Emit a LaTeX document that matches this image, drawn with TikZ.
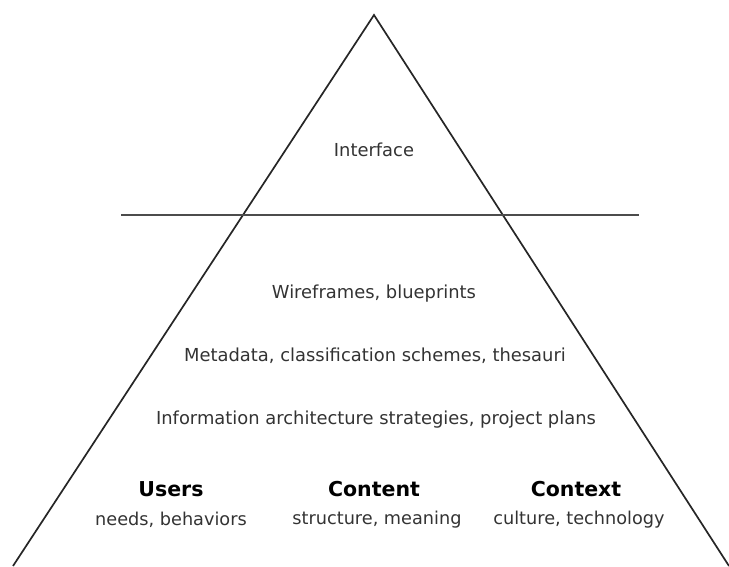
\documentclass[tikz,border=0pt]{standalone}
\usepackage{fontspec}
\setmainfont{DejaVu Sans}
\begin{document}
\begin{tikzpicture}[x=1pt,y=-1pt,
  layer/.style={text=black!80,font=\fontsize{17.9}{20}\selectfont,inner sep=0pt},
  head/.style={text=black,font=\fontsize{20.5}{24}\selectfont\bfseries,inner sep=0pt},
  sub/.style={text=black!80,font=\fontsize{17.7}{20}\selectfont,inner sep=0pt},
  edge/.style={line width=1.7pt,draw=black!85},
  rule/.style={line width=2pt,draw=black!70}]
\useasboundingbox (0,0) rectangle (729,566);
\coordinate (apex) at (374,15);
\coordinate (bl) at (13,566);
\coordinate (br) at (729,566);
\coordinate (hl) at (121,215);
\coordinate (hr) at (639,215);
\draw[edge] (bl) -- (apex) -- (br);
\draw[rule] (hl) -- (hr);
\node[layer] (iface) at (374,150) {Interface};
\node[layer] (wire) at (374,294) {Wireframes, blueprints};
\node[layer] (meta) at (375,356) {Metadata, classification schemes, thesauri};
\node[layer] (info) at (376,420) {Information architecture strategies, project plans};
\node[head] (users) at (171,489) {Users};
\node[head] (content) at (374,489) {Content};
\node[head] (context) at (576,489) {Context};
\node[sub] (usub) at (171,520) {needs, behaviors};
\node[sub] (csub) at (377,520) {structure, meaning};
\node[sub] (xsub) at (579,520) {culture, technology};
\end{tikzpicture}
\end{document}
